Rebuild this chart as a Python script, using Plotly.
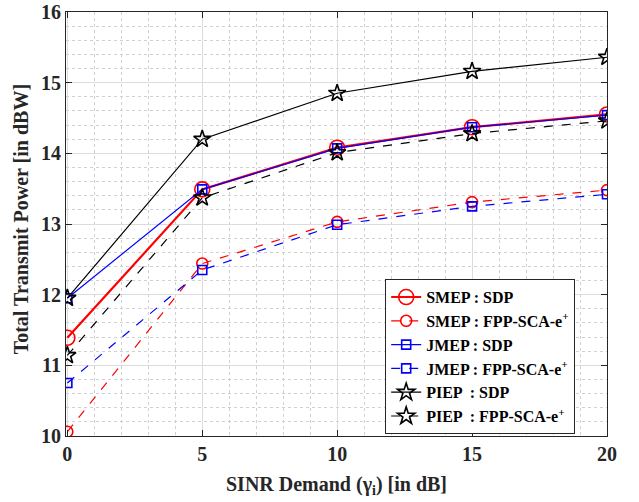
import plotly.graph_objects as go

sinr = [0, 5, 10, 15, 20]
yticks = [10, 11, 12, 13, 14, 15, 16]
smep_sdp = [11.39, 13.49, 14.08, 14.37, 14.55]
smep_fpp = [10.06, 12.44, 13.03, 13.31, 13.48]
jmep_sdp = [11.95, 13.49, 14.07, 14.37, 14.54]
jmep_fpp = [10.75, 12.35, 12.99, 13.25, 13.42]
piep_sdp = [11.95, 14.20, 14.85, 15.16, 15.36]
piep_fpp = [11.14, 13.37, 14.01, 14.28, 14.46]

names = ["SMEP : SDP", "SMEP : FPP-SCA-e<sup>+</sup>",
         "JMEP : SDP", "JMEP : FPP-SCA-e<sup>+</sup>",
         "PIEP  : SDP", "PIEP  : FPP-SCA-e<sup>+</sup>"]
series = [smep_sdp, smep_fpp, jmep_sdp, jmep_fpp, piep_sdp, piep_fpp]
colors = ["red", "red", "blue", "blue", "black", "black"]
dashes = ["solid", "dash", "solid", "dash", "solid", "dash"]
symbols = ["circle-open", "circle-open", "square-open", "square-open", "star-open", "star-open"]
msizes = [15, 11, 9, 9, 13, 13]
lwidths = [2.2, 1.2, 1.2, 1.2, 1.2, 1.2]

fig = go.Figure()
for n, s, c, d, sym, ms, lw in zip(names, series, colors, dashes, symbols, msizes, lwidths):
    fig.add_trace(go.Scatter(
        x=sinr, y=s, name="<b>" + n + "</b>", mode="lines+markers",
        line=dict(color=c, dash=d, width=lw),
        marker=dict(symbol=sym, size=ms, color=c, line=dict(width=1.6, color=c)),
    ))

font = dict(family="Liberation Serif", size=20, color="#262626", weight=700)
tfont = dict(family="Liberation Serif", size=20, color="#262626", weight=700)
axis_common = dict(
    showline=True, linecolor="#262626", linewidth=1.2, mirror="allticks",
    ticks="inside", ticklen=6, tickcolor="#262626",
    showgrid=True, gridcolor="#dcdcdc", gridwidth=1, zeroline=False,
    tickfont=font, automargin=False,
)
fig.update_xaxes(range=[-0.05, 20], tickvals=sinr, ticktext=["<b>%d</b>" % v for v in sinr],
                 title=dict(text="<b>SINR Demand (γ<sub>i</sub>) [in dB]</b>", font=tfont, standoff=12),
                 minor=dict(dtick=1, showgrid=True, gridcolor="#d0d0d0", griddash="dot", ticks=""),
                 **axis_common)
fig.update_yaxes(range=[10, 16], tickvals=yticks, ticktext=["<b>%d</b>" % v for v in yticks],
                 minor=dict(dtick=0.2, showgrid=True, gridcolor="#d0d0d0", griddash="dot", ticks=""),
                 **axis_common)

fig.add_annotation(text="<b>Total Transmit Power [in dBW]</b>", textangle=-90,
                   xref="paper", yref="paper", x=-0.084, y=0.51,
                   xanchor="center", yanchor="middle", showarrow=False, font=tfont)

fig.update_layout(
    width=639, height=502,
    margin=dict(l=66, r=32, t=12, b=66),
    plot_bgcolor="white", paper_bgcolor="white",
    legend=dict(x=0.59, y=0.37, xanchor="left", yanchor="top",
                bgcolor="white", bordercolor="#262626", borderwidth=1,
                font=dict(family="Liberation Serif", size=16, color="black", weight=700),
                tracegroupgap=0, itemwidth=30),
    showlegend=True,
)

fig.write_html("out.html")
